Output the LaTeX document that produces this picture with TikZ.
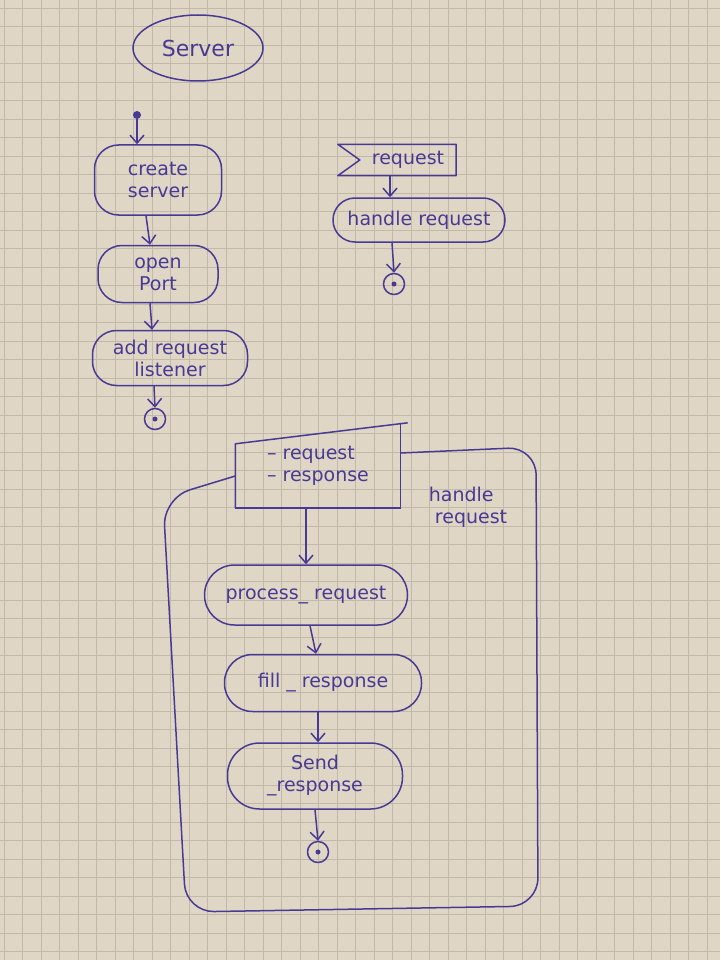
\documentclass[tikz,border=0pt]{standalone}
\usepackage{fontspec}
\setmainfont{DejaVu Sans}
\usetikzlibrary{shapes.geometric,arrows.meta}
\definecolor{paper}{RGB}{224,214,197}
\definecolor{gridc}{RGB}{194,185,170}
\definecolor{ink}{RGB}{72,58,148}
\tikzset{
  act/.style={draw=ink, line width=1.5pt, inner sep=0pt, align=center, text=ink,
    font=\fontsize{19}{22}\selectfont},
  plain/.style={inner sep=0pt, align=center, text=ink, font=\fontsize{19}{22}\selectfont},
  arr/.style={draw=ink, line width=1.5pt, -{Straight Barb[length=8pt,width=14pt]}},
  final/.style={circle, draw=ink, line width=1.5pt, minimum size=21pt, inner sep=0pt},
  initial/.style={circle, fill=ink, minimum size=8pt, inner sep=0pt},
  line/.style={draw=ink, line width=1.5pt}
}
\begin{document}
\begin{tikzpicture}[x=1pt,y=-1pt]
\useasboundingbox (0,0) rectangle (720,960);
\fill[paper] (0,0) rectangle (720,960);
\foreach \i in {0,...,39} {
  \draw[gridc, line width=0.6pt] (4+\i*18.5,0) -- (4+\i*18.5,960);
}
\foreach \i in {0,...,52} {
  \draw[gridc, line width=0.6pt] (0,8+\i*18.5) -- (720,8+\i*18.5);
}
% left column
\node[act, ellipse, minimum width=130pt, minimum height=66pt, font=\fontsize{22}{26}\selectfont] (server) at (198,48) {Server};
\node[initial] (init) at (137,115) {};
\node[act, rounded corners=24pt, minimum width=127pt, minimum height=70pt] (create) at (158,180) {create\\server};
\node[act, rounded corners=24pt, minimum width=120pt, minimum height=57pt] (open) at (158,274) {open\\Port};
\node[act, rounded corners=24pt, minimum width=155pt, minimum height=55pt] (add) at (170,358) {add request\\listener};
\node[final] (f1) at (155,419) {};
\fill[ink] (f1) circle (2.5);
\draw[arr] (init) -- (init |- create.north);
\draw[arr] ([xshift=-12pt]create.south) -- ([xshift=-8pt]open.north);
\draw[arr] ([xshift=-8pt]open.south) -- ([xshift=-18pt]add.north);
\draw[arr] ([xshift=-16pt]add.south) -- (f1.north);
% right column
\node[plain, minimum width=96pt, minimum height=31pt] (sig) at (408,160) {request};
\draw[line, line join=round] (sig.north east) -- (sig.south east) -- ([xshift=-22pt]sig.south west) -- (sig.west) -- ([xshift=-22pt]sig.north west) -- cycle;
\node[act, rounded corners=22pt, minimum width=172pt, minimum height=44pt] (hr) at (419,220) {handle request};
\node[final] (f2) at (394,284) {};
\fill[ink] (f2) circle (2.5);
\draw[arr] ([xshift=-18pt]sig.south) -- ([xshift=-29pt]hr.north);
\draw[arr] ([xshift=-27pt]hr.south) -- (f2.north);
% activity frame
\node[plain, minimum width=165pt, minimum height=84pt, align=left] (param) at (318,466) {-- request\\-- response};
\draw[line, line join=round] (param.south west) -- ([yshift=-20pt]param.north west) -- ([xshift=7pt,yshift=1pt]param.north east);
\draw[line] (param.north east) -- (param.south east) -- (param.south west);
\draw[line, rounded corners=28pt] ([yshift=13pt]param.east) -- (536,447) -- (538,906) -- (186,912) -- (163,498) -- ([yshift=-10pt]param.west);
\node[plain, align=left] (lbl) at (468,507) {handle\\\ request};
\node[act, rounded corners=30pt, minimum width=203pt, minimum height=60pt] (pr) at (306,595) {process\_ request};
\node[act, rounded corners=28pt, minimum width=197pt, minimum height=57pt] (fr) at (323,683) {fill \_ response};
\node[act, rounded corners=32pt, minimum width=175pt, minimum height=66pt] (sr) at (315,776) {Send\\\_response};
\node[final] (f3) at (318,852) {};
\fill[ink] (f3) circle (2.5);
\draw[arr] ([xshift=-12pt]param.south) -- (pr.north);
\draw[arr] ([xshift=4pt]pr.south) -- ([xshift=-7pt]fr.north);
\draw[arr] ([xshift=-5pt]fr.south) -- ([xshift=3pt]sr.north);
\draw[arr] (sr.south) -- (f3.north);
\end{tikzpicture}
\end{document}
